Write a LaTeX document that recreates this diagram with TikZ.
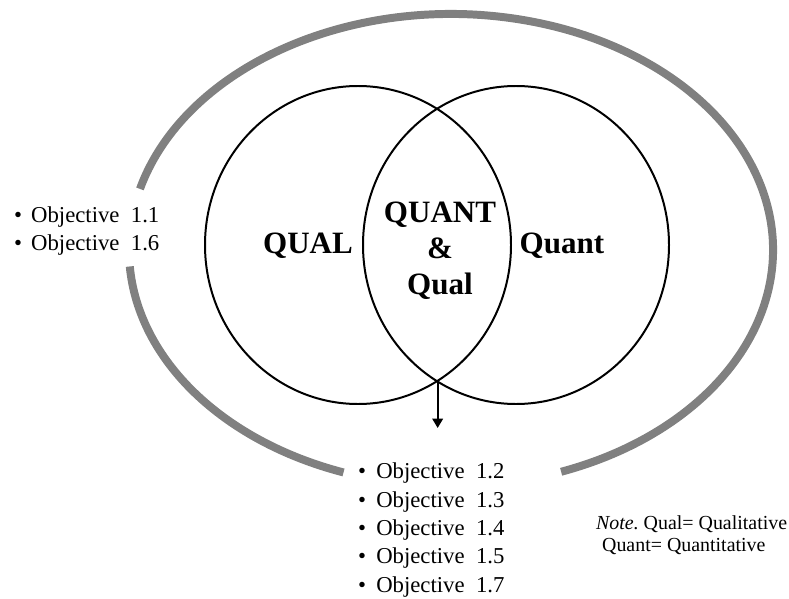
\documentclass[tikz,border=0pt]{standalone}
\usepackage{fontspec}
\setmainfont{Liberation Serif}
\usetikzlibrary{arrows.meta}

\begin{document}
\begin{tikzpicture}

\tikzset{ring/.style={draw=black!50, line width=6.8pt}}
\tikzset{venn/.style={draw=black, line width=1.7pt}}
\tikzset{biglabel/.style={font=\fontsize{26.5}{30.7}\selectfont\bfseries, align=center}}
\tikzset{objlist/.style={anchor=west, align=left, font=\fontsize{19.4}{24.2}\selectfont}}

\useasboundingbox (0,0) rectangle (23.67,17.94);

% outer ring, open on the left and at the bottom
\draw[ring] (13.53,10.44) ++(165:9.66 and 7.08) arc[start angle=165, end angle=-70, x radius=9.66, y radius=7.08];
\draw[ring] (13.53,10.44) ++(184:9.66 and 7.08) arc[start angle=184, end angle=250.5, x radius=9.66, y radius=7.08];

% the two sets
\draw[venn] (10.74,10.59) ellipse (4.59cm and 4.77cm);
\draw[venn] (15.48,10.59) ellipse (4.59cm and 4.77cm);

\node[biglabel] (qual) at (9.24,10.56) {QUAL};
\node[biglabel] (both) at (13.2,10.41) {QUANT\\\&\\Qual};
\node[biglabel] (quant) at (16.86,10.56) {Quant};

\coordinate (meet) at (13.13,6.54);
\coordinate (tip) at (13.13,5.10);
\draw[line width=1.7pt, -{Triangle[width=9pt, length=8pt]}] (meet) -- (tip);

\node[objlist] (outside) at (0.3,11.01) {\textbullet\hspace{0.4em}Objective\enspace 1.1\\
  \textbullet\hspace{0.4em}Objective\enspace 1.6};
\node[objlist] (mixed) at (10.62,2.04) {\textbullet\hspace{0.45em}Objective\enspace 1.2\\
  \textbullet\hspace{0.45em}Objective\enspace 1.3\\
  \textbullet\hspace{0.45em}Objective\enspace 1.4\\
  \textbullet\hspace{0.45em}Objective\enspace 1.5\\
  \textbullet\hspace{0.45em}Objective\enspace 1.7};

\node[anchor=west, align=left, font=\fontsize{17}{18.5}\selectfont] (note) at (17.76,1.89)
  {\textit{Note.}\ Qual= Qualitative\\ \hspace{0.3em}Quant= Quantitative};

\end{tikzpicture}
\end{document}
